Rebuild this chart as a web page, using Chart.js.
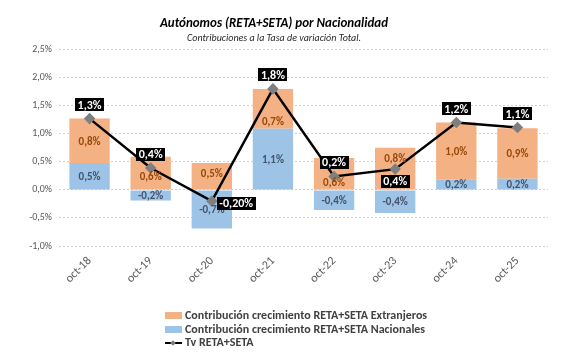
<!DOCTYPE html>
<html>
<head>
<meta charset="utf-8">
<script src="https://cdn.jsdelivr.net/npm/chart.js@4.4.1/dist/chart.umd.min.js"></script>
<style>
    html, body { margin: 0; padding: 0; background: #fff; }
    #wrap { position: relative; width: 569px; height: 354px; }
    #legend {
        position: absolute; left: 165px; top: 309px;
        font-family: Carlito, Lato, sans-serif; font-weight: bold; font-size: 12px; color: #404040;
    }
    .leg-row { height: 13.5px; line-height: 13.5px; display: flex; align-items: center; }
    .swatch { width: 17px; height: 7px; margin-right: 3px; }
    .leg-line { position: relative; width: 17px; height: 10px; margin-right: 3px; }
    .leg-line::before { content: ''; position: absolute; left: 0; right: 0; top: 4px; height: 2px; background: #000; }
    .leg-line::after { content: ''; position: absolute; left: 6px; top: 3px; width: 4px; height: 4px; background: #7f7f7f; transform: rotate(45deg); }
</style>
</head>
<body>
<div id="wrap">
    <canvas id="chart" width="569" height="354"></canvas>
    <div id="legend">
        <div class="leg-row"><span class="swatch" style="background:#F4B183"></span>Contribución crecimiento RETA+SETA Extranjeros</div>
        <div class="leg-row"><span class="swatch" style="background:#9DC3E6"></span>Contribución crecimiento RETA+SETA Nacionales</div>
        <div class="leg-row"><span class="leg-line"></span>Tv RETA+SETA</div>
    </div>
</div>
<script>
// Data (percent points)
const categories = ['oct-18', 'oct-19', 'oct-20', 'oct-21', 'oct-22', 'oct-23', 'oct-24', 'oct-25'];
const nacionales = [0.48, -0.19, -0.69, 1.09, -0.36, -0.41, 0.18, 0.20];
const extranjeros = [0.79, 0.59, 0.48, 0.71, 0.57, 0.75, 1.02, 0.90];
const tvTotal = [1.27, 0.39, -0.20, 1.80, 0.24, 0.37, 1.20, 1.11];
const tvLabels = ['1,3%', '0,4%', '-0,20%', '1,8%', '0,2%', '0,4%', '1,2%', '1,1%'];
const yTicks = [-1.0, -0.5, 0.0, 0.5, 1.0, 1.5, 2.0, 2.5];

// Label placement tweaks (pixels / side), kept apart from the values
const tvLabelPos = ['above', 'above', 'right', 'above', 'above', 'below', 'above', 'above'];
const extLabelShift = [0, 3, -3, 12, 9, -10, 0, 0];

const FONT = 'Carlito, Lato, sans-serif';

function fmt(v) {
    return v.toFixed(1).replace('.', ',') + '%';
}

// Draws the value labels on bars and the boxed labels on the line
const valueLabels = {
    id: 'valueLabels',
    afterDatasetsDraw(chart) {
        const ctx = chart.ctx;
        ctx.save();
        ctx.textAlign = 'center';
        ctx.textBaseline = 'middle';
        ctx.font = 'bold 11px ' + FONT;

        // bar segments
        [0, 1].forEach(di => {
            const ds = chart.data.datasets[di];
            chart.getDatasetMeta(di).data.forEach((bar, i) => {
                let yc = (bar.y + bar.base) / 2;
                if (di === 1) yc += extLabelShift[i];
                ctx.fillStyle = ds.labelColor;
                ctx.fillText(fmt(ds.data[i]), bar.x, yc + 1);
            });
        });

        // line labels in black boxes
        ctx.font = 'bold 12px ' + FONT;
        chart.getDatasetMeta(2).data.forEach((pt, i) => {
            const txt = tvLabels[i];
            const w = ctx.measureText(txt).width + 5;
            const h = 13;
            let cx = pt.x, cy = pt.y - 14;
            if (tvLabelPos[i] === 'right') { cx = pt.x + 5 + w / 2; cy = pt.y + 2; }
            if (tvLabelPos[i] === 'below') { cx = pt.x; cy = pt.y + 12; }
            ctx.fillStyle = '#000';
            ctx.fillRect(Math.round(cx - w / 2), Math.round(cy - h / 2), Math.round(w), h);
            ctx.fillStyle = '#fff';
            ctx.fillText(txt, cx, cy + 1);
        });
        ctx.restore();
    }
};

const ctx = document.getElementById('chart').getContext('2d');
new Chart(ctx, {
    data: {
        labels: categories,
        datasets: [
            {
                type: 'bar',
                label: 'Contribución crecimiento RETA+SETA Nacionales',
                data: nacionales,
                backgroundColor: '#9DC3E6',
                labelColor: '#44546A',
                stack: 'bars',
                order: 1,
                categoryPercentage: 1,
                barPercentage: 0.66
            },
            {
                type: 'bar',
                label: 'Contribución crecimiento RETA+SETA Extranjeros',
                data: extranjeros,
                backgroundColor: '#F4B183',
                labelColor: '#984807',
                stack: 'bars',
                order: 1,
                categoryPercentage: 1,
                barPercentage: 0.66
            },
            {
                type: 'line',
                label: 'Tv RETA+SETA',
                data: tvTotal,
                borderColor: '#000',
                borderWidth: 2.5,
                pointStyle: 'rectRot',
                pointRadius: 4,
                pointBackgroundColor: '#7f7f7f',
                pointBorderColor: '#7f7f7f',
                tension: 0,
                stack: 'line',
                order: 0
            }
        ]
    },
    options: {
        responsive: false,
        animation: false,
        layout: { padding: { left: 0, right: 21, top: 0, bottom: 0 } },
        plugins: {
            legend: { display: false },
            tooltip: { enabled: false },
            title: {
                display: true,
                text: 'Autónomos (RETA+SETA) por Nacionalidad',
                color: '#000',
                font: { family: FONT, size: 13, weight: 'bold', style: 'italic', lineHeight: 1.2 },
                padding: { top: 16, bottom: 0 }
            },
            subtitle: {
                display: true,
                text: 'Contribuciones a la Tasa de variación Total.',
                color: '#262626',
                font: { family: FONT, size: 10, style: 'italic', lineHeight: 1.2 },
                padding: { top: 1, bottom: 5 }
            }
        },
        scales: {
            x: {
                stacked: true,
                grid: { display: false },
                border: { display: false },
                ticks: {
                    color: '#595959',
                    font: { family: FONT, size: 12 },
                    minRotation: 45,
                    maxRotation: 45,
                    padding: 0
                },
                afterFit(scale) { scale.height = 108; }
            },
            y: {
                stacked: true,
                min: yTicks[0],
                max: yTicks[yTicks.length - 1],
                afterBuildTicks(scale) { scale.ticks = yTicks.map(v => ({ value: v })); },
                grid: {
                    color: '#d0d0d0',
                    lineWidth: 1,
                    drawTicks: false
                },
                border: { display: false, dash: [2, 2] },
                ticks: {
                    color: '#595959',
                    font: { family: FONT, size: 10 },
                    padding: 7,
                    callback: v => fmt(v)
                },
                afterFit(scale) { scale.width = 59; }
            }
        }
    },
    plugins: [valueLabels]
});
</script>
</body>
</html>
